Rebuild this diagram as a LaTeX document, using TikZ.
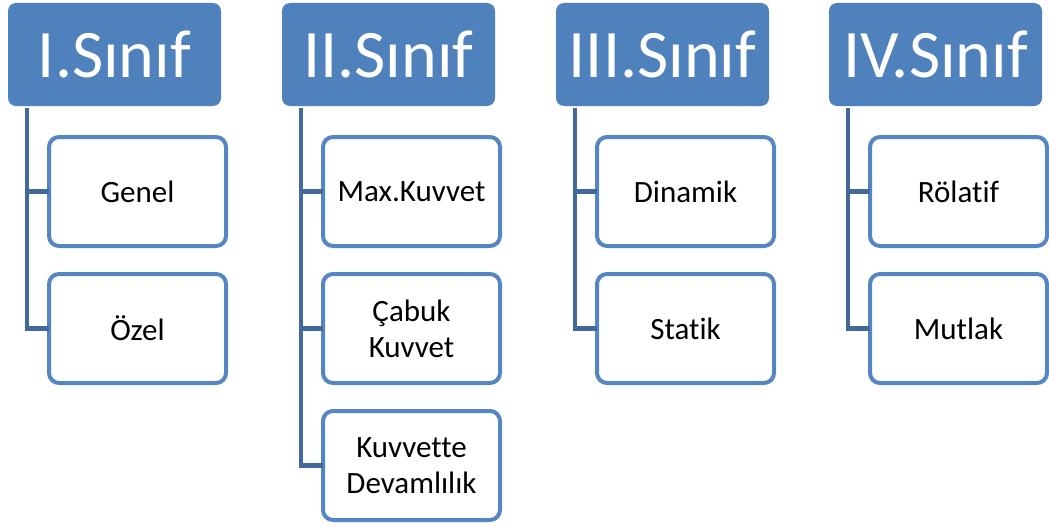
\documentclass[tikz,border=0pt]{standalone}
\usepackage{fontspec}
\setmainfont[Ligatures=NoCommon]{Carlito}
\definecolor{hdrblue}{HTML}{4F81BD}
\definecolor{boxblue}{HTML}{5585C3}
\definecolor{connblue}{HTML}{41699C}
\begin{document}
\begin{tikzpicture}[x=1pt,y=-1pt,
  hdr/.style={fill=hdrblue, rounded corners=8pt, minimum width=213pt, minimum height=103pt,
    anchor=north west, inner sep=0pt, outer sep=0pt, text=white, font=\fontsize{68}{72}\selectfont},
  child/.style={draw=boxblue, line width=4pt, fill=white, rounded corners=10pt,
    minimum width=177pt, minimum height=109pt, anchor=north west, inner sep=0pt, outer sep=0pt,
    align=center, text=black, font=\fontsize{31}{36}\selectfont},
  conn/.style={draw=connblue, line width=4.5pt}]
\useasboundingbox (0,0) rectangle (1049,527);
% headers
\node[hdr] (h1) at (8,3) {I.Sınıf};
\node[hdr] (h2) at (282,3) {II.Sınıf};
\node[hdr] (h3) at (556,3) {III.Sınıf};
\node[hdr] (h4) at (829,3) {IV.Sınıf};
% children
\node[child] (c11) at (49,137) {Genel};
\node[child] (c12) at (49,274) {Özel};
\node[child] (c21) at (323,137) {Max.Kuvvet};
\node[child] (c22) at (323,274) {Çabuk\\Kuvvet};
\node[child] (c23) at (323,411) {Kuvvette\\Devamlılık};
\node[child] (c31) at (597,137) {Dinamik};
\node[child] (c32) at (597,274) {Statik};
\node[child] (c41) at (870,137) {Rölatif};
\node[child] (c42) at (870,274) {Mutlak};
% connectors
\draw[conn] ([xshift=19pt,yshift=-2pt]h1.south west) |- (c11.west);
\draw[conn] ([xshift=19pt,yshift=-2pt]h1.south west) |- (c12.west);
\draw[conn] ([xshift=19pt,yshift=-2pt]h2.south west) |- (c21.west);
\draw[conn] ([xshift=19pt,yshift=-2pt]h2.south west) |- (c22.west);
\draw[conn] ([xshift=19pt,yshift=-2pt]h2.south west) |- (c23.west);
\draw[conn] ([xshift=19pt,yshift=-2pt]h3.south west) |- (c31.west);
\draw[conn] ([xshift=19pt,yshift=-2pt]h3.south west) |- (c32.west);
\draw[conn] ([xshift=19pt,yshift=-2pt]h4.south west) |- (c41.west);
\draw[conn] ([xshift=19pt,yshift=-2pt]h4.south west) |- (c42.west);
\end{tikzpicture}
\end{document}
